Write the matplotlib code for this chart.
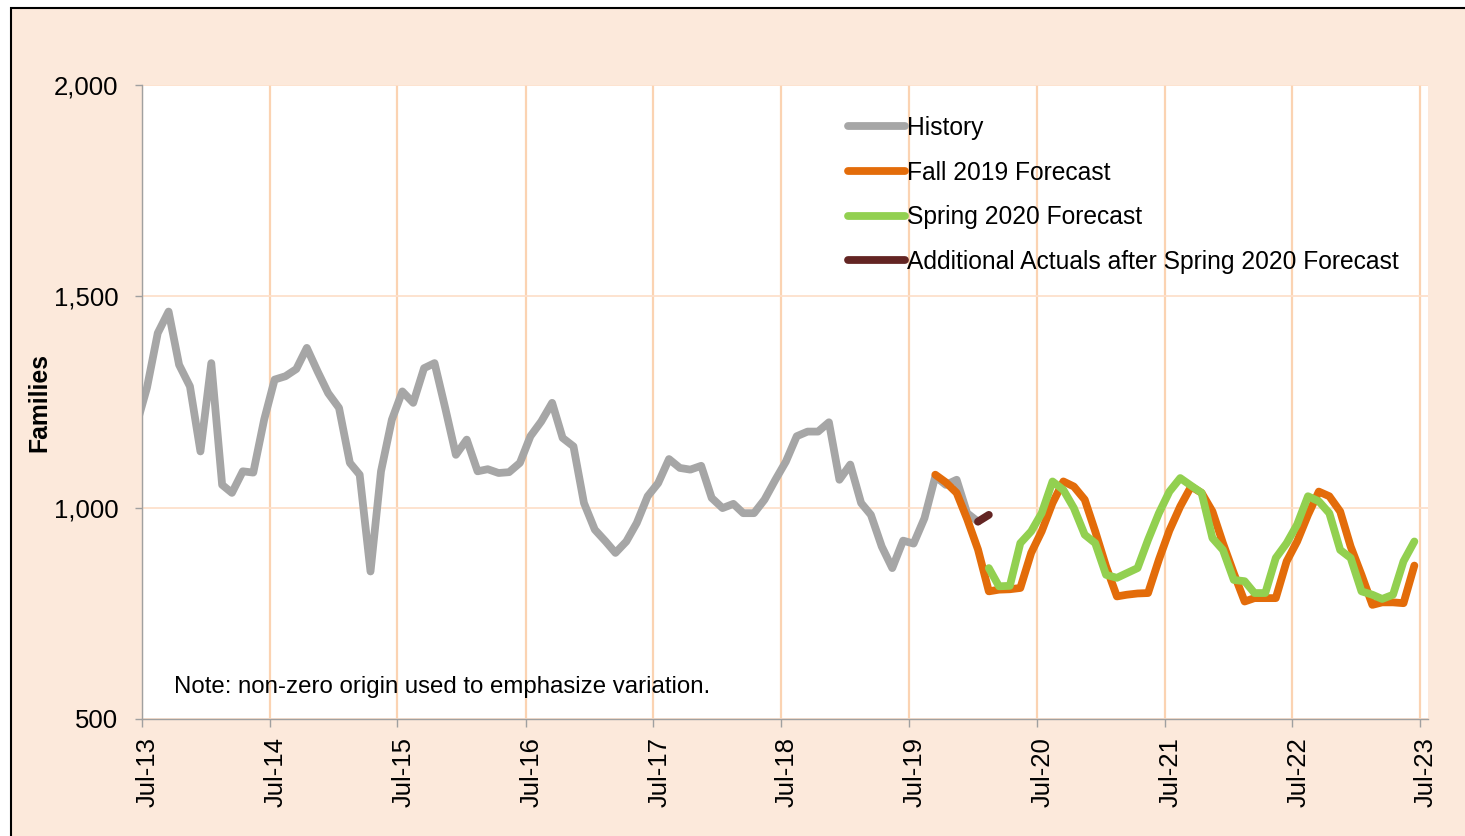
import numpy as np
import pandas as pd
import matplotlib
matplotlib.use("Agg")
import matplotlib.pyplot as plt
import matplotlib.dates as mdates
from matplotlib.patches import Rectangle
from matplotlib.transforms import ScaledTranslation

plt.rcParams['font.family'] = ['Liberation Sans', 'DejaVu Sans']

# monthly values, Jun-13 .. Jan-20 (first point falls left of the axis start)
history = [1195, 1283, 1413, 1464, 1338, 1287, 1133, 1342, 1054, 1035, 1086, 1083,
           1208, 1303, 1311, 1328, 1378, 1322, 1271, 1236, 1106, 1078, 849, 1086,
           1208, 1275, 1248, 1330, 1342, 1234, 1125, 1161, 1086, 1091, 1082, 1084,
           1106, 1169, 1204, 1248, 1165, 1145, 1011, 948, 920, 893, 920, 964,
           1027, 1058, 1115, 1094, 1090, 1099, 1023, 999, 1009, 987, 987, 1019,
           1066, 1109, 1169, 1180, 1180, 1202, 1066, 1102, 1011, 983, 908, 857,
           922, 915, 975, 1074, 1054, 1066, 987, 967]
# Sep-19 .. Jun-23
fall2019 = [1078, 1060, 1035, 973, 901, 802, 806, 807, 810, 893, 944, 1011,
            1062, 1050, 1019, 944, 861, 790, 794, 797, 798, 877, 946, 1003,
            1050, 1035, 991, 916, 845, 778, 786, 786, 786, 873, 920, 983,
            1038, 1027, 991, 908, 841, 770, 776, 776, 774, 863]
# Feb-20 .. Jun-23
spring2020 = [857, 814, 815, 916, 944, 987, 1062, 1042, 999, 936, 916, 841,
              834, 845, 857, 924, 987, 1038, 1070, 1052, 1035, 928, 900, 829,
              826, 798, 798, 881, 916, 960, 1027, 1015, 987, 900, 881, 802,
              794, 784, 794, 873, 920]
# Jan-20 .. Feb-20
additional = [967, 983]

def months(start, n):
    return pd.date_range(start, periods=n, freq="MS") + pd.Timedelta(days=14)

hist_x = months("2013-06-01", len(history))
fall_x = months("2019-09-01", len(fall2019))
spring_x = months("2020-02-01", len(spring2020))
add_x = months("2020-01-01", len(additional))

bg = '#FCE9DB'
fig = plt.figure(figsize=(14.65, 8.36), dpi=100, facecolor='white')
fig.patches.append(Rectangle((11 / 1465, -0.05), 1.1, 1.05 - 8 / 836,
                             transform=fig.transFigure, facecolor=bg,
                             edgecolor='black', lw=1.5, zorder=-10))

ax = fig.add_axes([142 / 1465, 1 - 719 / 836, (1428 - 142) / 1465, (719 - 85) / 836])
ax.set_facecolor('white')

kw = dict(lw=5.6, solid_capstyle='round', solid_joinstyle='round')
ax.plot(hist_x, history, color='#A6A6A6', label='History', zorder=3, **kw)
ax.plot(fall_x, fall2019, color='#E36C0A', label='Fall 2019 Forecast', zorder=4, **kw)
ax.plot(spring_x, spring2020, color='#92D050', label='Spring 2020 Forecast', zorder=5, **kw)
ax.plot(add_x, additional, color='#632523',
        label='Additional Actuals after Spring 2020 Forecast', zorder=6, **kw)

ax.set_xlim(pd.Timestamp("2013-07-01"), pd.Timestamp("2023-07-24"))
ax.set_ylim(500, 2000)
ax.set_yticks([500, 1000, 1500, 2000])
ax.yaxis.set_major_formatter(matplotlib.ticker.FuncFormatter(lambda v, p: f"{v:,.0f}"))
ax.set_xticks(pd.date_range("2013-07-01", "2023-07-01", freq="12MS"))
ax.xaxis.set_major_formatter(mdates.DateFormatter("%b-%y"))

ax.grid(axis='x', color='#FBD3B2', lw=1.6, zorder=0)
ax.grid(axis='y', color='#FDE0CB', lw=1.3, zorder=0)

for s in ['top', 'right']:
    ax.spines[s].set_visible(False)
for s in ['left', 'bottom']:
    ax.spines[s].set_color('#A0A0A0')
    ax.spines[s].set_linewidth(1)
    ax.spines[s].set_zorder(7)

ax.tick_params(axis='y', length=5, width=1, color='#A0A0A0', pad=12, labelsize=18.5)
ax.tick_params(axis='x', length=6, width=1, color='#A0A0A0', pad=7, labelsize=18.5,
               labelrotation=90)
for lab in ax.get_xticklabels():
    lab.set_transform(lab.get_transform() + ScaledTranslation(0.06, 0, fig.dpi_scale_trans))

ax.set_ylabel('Families', fontsize=17.8, fontweight='bold')
ax.yaxis.set_label_coords(-0.0708, 0.5)

leg = ax.legend(loc='upper left', bbox_to_anchor=(848 / 1465, 1 - 116 / 836),
                bbox_transform=fig.transFigure, frameon=False, fontsize=17.7,
                handlelength=2.32, handletextpad=0.08, labelspacing=0.84,
                borderpad=0, borderaxespad=0)

fig.text(174 / 1465, 1 - 687 / 836, 'Note: non-zero origin used to emphasize variation.',
         fontsize=17.3, va='center', ha='left')

fig.savefig('out.png', dpi=100, facecolor=fig.get_facecolor())
